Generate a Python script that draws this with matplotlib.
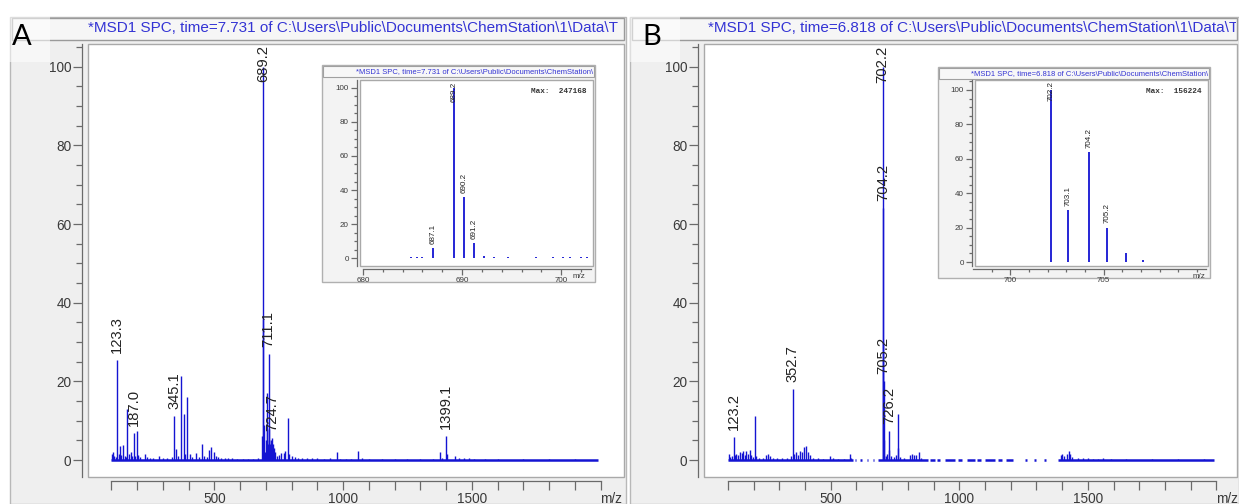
import matplotlib
matplotlib.use('Agg')
import matplotlib.pyplot as plt
from matplotlib.patches import Rectangle
from matplotlib.ticker import FixedLocator, FixedFormatter, MultipleLocator
import matplotlib.transforms as mtransforms
import numpy as np

plt.rcParams['font.family'] = ['Liberation Sans', 'DejaVu Sans']

# ---------------- data ----------------
# Panel A, full scan (m/z, relative abundance)
a_mz = [104, 106.6, 112, 118, 123.3, 128, 132.5, 139, 146.8, 152, 156, 161, 168, 175, 181,
        187.0, 193, 199.8, 205, 212, 229.7, 238, 250, 262, 284, 300, 318, 335, 345.1, 352,
        360, 372, 382, 388, 395, 405, 415, 430, 440, 453, 460, 470, 478, 488, 499, 505, 515,
        525, 540, 555, 570, 590, 610, 630, 650, 670, 687.1, 689.2, 690.2, 691.2, 692.2, 695,
        700, 703, 706, 708, 711.1, 712.1, 714, 717, 720, 724.7, 728, 732, 736, 742, 750, 760,
        770, 776, 785, 790, 800, 812, 825, 840, 860, 880, 900, 925, 950, 974.6, 990, 1010,
        1030, 1059, 1075, 1100, 1150, 1200, 1250, 1300, 1350, 1376, 1385, 1399.1, 1402,
        1433, 1450, 1470, 1490, 1510, 1550, 1600, 1700, 1800, 1900]
a_int = [1.5, 2.0, 1.0, 0.8, 25.5, 1.5, 3.5, 1.2, 3.8, 1.0, 0.8, 12.9, 1.5, 2.0, 1.0,
         6.9, 1.0, 7.5, 1.2, 0.8, 1.6, 0.7, 0.5, 0.5, 1.0, 0.5, 0.5, 0.8, 11.3, 2.8,
         1.0, 21.3, 11.8, 1.5, 16.0, 1.5, 0.8, 1.8, 0.7, 4.0, 1.0, 0.8, 2.5, 3.4, 2.0, 1.0, 0.8,
         0.6, 0.6, 0.5, 0.5, 0.4, 0.4, 0.4, 0.4, 0.5, 6.0, 100.0, 36.0, 9.0, 1.2, 2.0,
         5.0, 8.0, 17.0, 4.0, 27.0, 8.0, 5.0, 4.0, 5.0, 5.7, 4.0, 3.0, 2.0, 1.0, 1.2, 1.8,
         1.8, 2.2, 10.8, 1.5, 1.0, 0.8, 0.6, 0.6, 0.5, 0.5, 0.5, 0.4, 0.5, 2.0, 0.4, 0.4,
         0.4, 2.2, 0.5, 0.4, 0.3, 0.3, 0.3, 0.3, 0.3, 2.0, 0.5, 6.1, 1.5,
         1.0, 0.6, 0.5, 0.5, 0.3, 0.3, 0.3, 0.3, 0.3, 0.3]
a_base = [(100, 1990)]
a_labels = ["123.3", "187.0", "345.1", "689.2", "711.1", "724.7", "1399.1"]

# Panel B, full scan
b_mz = [104, 110, 116, 123.2, 128, 133, 140, 147, 153, 160, 166, 172, 178, 185, 191, 198,
        204, 210, 220, 235, 249, 256, 262, 275, 290, 310, 330, 345, 352.7, 358, 366, 372,
        380, 388, 395, 402, 410, 418, 430, 450, 470, 496, 510, 530, 550, 574, 580,
        702.2, 703.1, 704.2, 705.2, 706.2, 707.1, 713, 718, 726.2, 727.2, 735, 745, 755,
        762, 763, 770, 785, 808, 815, 822, 830, 843, 850,
        1395, 1400, 1408, 1418, 1425, 1432, 1440, 1460, 1480, 1500, 1520, 1540, 1560, 1590,
        1650, 1750, 1850, 1950]
b_int = [1.5, 0.8, 1.0, 5.9, 1.2, 1.6, 1.2, 2.0, 1.8, 2.2, 1.4, 2.4, 1.5, 2.6, 1.2, 0.8,
         11.2, 1.0, 0.6, 0.6, 1.3, 1.5, 1.0, 0.5, 0.5, 0.5, 0.5, 1.0, 18.0, 1.5, 2.0, 1.2,
         2.4, 2.1, 3.3, 3.5, 2.0, 1.2, 0.6, 0.5, 0.4, 1.0, 0.5, 0.4, 0.4, 1.5, 0.5,
         100.0, 30.0, 64.0, 20.0, 5.0, 1.0, 1.0, 1.5, 7.4, 2.5, 1.0, 0.8, 1.2,
         11.8, 3.0, 0.8, 0.6, 1.2, 1.6, 1.2, 1.4, 2.0, 0.6,
         1.2, 1.6, 1.0, 1.6, 2.2, 1.5, 0.8, 0.6, 0.5, 0.5, 0.4, 0.4, 0.5, 0.3,
         0.3, 0.3, 0.3, 0.3]
b_base = [(100, 585), (595, 600), (615, 620), (640, 645), (665, 670), (685, 880),
          (885, 905), (915, 925), (945, 985), (995, 1010), (1030, 1060), (1070, 1085),
          (1100, 1140), (1150, 1165), (1180, 1210), (1255, 1262), (1290, 1297),
          (1330, 1337), (1385, 1990)]
b_labels = ["123.2", "352.7", "702.2", "704.2", "705.2", "726.2"]

# Insets (zoom on the molecular ion cluster)
ia_mz = [684.8, 685.4, 686.0, 687.1, 689.2, 690.2, 691.2, 692.2, 693.2, 694.6, 697.5,
         699.2, 700.2, 700.9, 702.0, 702.6]
ia_int = [0.4, 0.4, 0.4, 6.0, 100.0, 36.0, 9.0, 1.2, 0.5, 0.4, 0.4, 0.4, 0.4, 0.4, 0.4, 0.4]
ia_labels = ["687.1", "689.2", "690.2", "691.2"]
ib_mz = [702.2, 703.1, 704.2, 705.2, 706.2, 707.1, 708.2]
ib_int = [100.0, 30.0, 64.0, 20.0, 5.0, 1.0, 0.3]
ib_labels = ["702.2", "703.1", "704.2", "705.2"]

titles = ["*MSD1 SPC, time=7.731 of C:\\Users\\Public\\Documents\\ChemStation\\1\\Data\\T",
          "*MSD1 SPC, time=6.818 of C:\\Users\\Public\\Documents\\ChemStation\\1\\Data\\T"]
inset_titles = ["*MSD1 SPC, time=7.731 of C:\\Users\\Public\\Documents\\ChemStation\\",
                "*MSD1 SPC, time=6.818 of C:\\Users\\Public\\Documents\\ChemStation\\"]
max_texts = ["Max:  247168", "Max:  156224"]
panel_letters = ["A", "B"]

# ---------------- drawing ----------------
W, H = 1239, 504
fig = plt.figure(figsize=(W / 100, H / 100), dpi=100)
fig.patch.set_facecolor('white')

BLUE = '#1414d2'
TXT_BLUE = '#3434d4'
FRAME = '#a9a9a9'
AXC = '#6a6a6a'
PANEL_BG = '#efefef'


def box(l, t, r, b):
    return [l / W, 1 - b / H, (r - l) / W, (b - t) / H]


def rect(l, t, r, b, z=0, **kw):
    p = Rectangle((l / W, 1 - b / H), (r - l) / W, (b - t) / H,
                  transform=fig.transFigure, zorder=z, **kw)
    fig.add_artist(p)
    return p


def ftext(x, y, s, **kw):
    return fig.text(x / W, 1 - y / H, s, **kw)


def spectrum(pos, mz, inten, base, labels, xlim, ylim, xmajor, xlabels, xminor,
             ymin_step, lw, base_lw, fs, lab_fs, tick_major, tick_minor, out_l, out_b,
             lab_off, spine_xb):
    ax = fig.add_axes(pos)
    ax.set_facecolor('white')
    ax.set_xlim(*xlim)
    ax.set_ylim(*ylim)
    ax.vlines(mz, 0, inten, color=BLUE, lw=lw, zorder=3)
    for a, b in base:
        ax.plot([a, b], [0, 0], color=BLUE, lw=base_lw, solid_capstyle='butt', zorder=3)
    lab_set = set(labels)
    for m, h in zip(mz, inten):
        s = ("%.1f" % m)
        if s in lab_set:
            if h > 90:
                ax.annotate(s, (m, ylim[1]), xytext=(0, -1), textcoords='offset points',
                            rotation=90, ha='center', va='top', fontsize=lab_fs,
                            color='#222222', zorder=4)
            else:
                ax.annotate(s, (m, h), xytext=(0, lab_off), textcoords='offset points',
                            rotation=90, ha='center', va='bottom', fontsize=lab_fs,
                            color='#222222', zorder=4)
    for sp in ['top', 'right']:
        ax.spines[sp].set_visible(False)
    ax.spines['left'].set_position(('outward', out_l))
    ax.spines['bottom'].set_position(('outward', out_b))
    ax.spines['bottom'].set_bounds(spine_xb)
    for sp in ['left', 'bottom']:
        ax.spines[sp].set_color(AXC)
        ax.spines[sp].set_linewidth(0.9)
    ax.add_patch(Rectangle((0, 0), 1, 1, transform=ax.transAxes, fill=False,
                           edgecolor=FRAME, lw=1.0, clip_on=False, zorder=5))
    ax.xaxis.set_major_locator(FixedLocator(xmajor))
    ax.xaxis.set_major_formatter(FixedFormatter(xlabels))
    ax.xaxis.set_minor_locator(FixedLocator(xminor))
    ax.set_yticks([0, 20, 40, 60, 80, 100])
    ax.yaxis.set_minor_locator(MultipleLocator(ymin_step))
    ax.tick_params(which='major', length=tick_major, width=0.9, color=AXC,
                   labelsize=fs, labelcolor='#3a3a3a', pad=1.5)
    ax.tick_params(which='minor', length=tick_minor, width=0.9, color=AXC)
    tr = mtransforms.blended_transform_factory(ax.transData, ax.transAxes)
    return ax, tr


# --- panel frames ---
for i, (l, r) in enumerate([(10, 626), (630, 1239)]):
    rect(l, 17, r, 504, z=0, facecolor=PANEL_BG, edgecolor='#b8b8b8', lw=1.0)
    rect(l + 2, 18, r - 2, 40, z=1, facecolor='#f6f6f6', edgecolor='#9a9a9a', lw=1.0)
    t = ftext(l + 78, 28.5, titles[i], fontsize=11, color=TXT_BLUE, va='center', ha='left',
              zorder=2)
    t.set_clip_path(Rectangle(((l + 2) / W, 0), (r - l - 5) / W, 1,
                              transform=fig.transFigure))

# --- main spectra ---
main_specs = [
    dict(pos=box(88, 44, 624, 477), mz=a_mz, inten=a_int, base=a_base, labels=a_labels,
         xlim=(9.5, 2091)),
    dict(pos=box(704, 44, 1237, 477), mz=b_mz, inten=b_int, base=b_base, labels=b_labels,
         xlim=(7, 2080)),
]
xt = list(range(100, 2001, 100))
xtl = [str(v) if v in (500, 1000, 1500) else '' for v in xt]
for spec in main_specs:
    ax, tr = spectrum(spec['pos'], spec['mz'], spec['inten'], spec['base'], spec['labels'],
                      spec['xlim'], (-4.3, 105.8), xt, xtl, [], 5, 1.0, 1.8, 9.8, 10.6,
                      6.5, 4, 4, 3, 5, (100, 2000))
    ax.text(2042, -0.035, 'm/z', transform=tr, ha='center', va='top', fontsize=9.8,
            color='#3a3a3a')

# --- panel letters ---
for (l, letter) in [(0, 'A'), (630, 'B')]:
    rect(l, 15, l + 50, 62, z=6, facecolor='white', alpha=0.55, edgecolor='none')
    ftext(l + 22, 37, letter, fontsize=21, family='Lato', color='black',
          ha='center', va='center', zorder=7)

# --- insets ---
inset_specs = [
    dict(outer=(322, 65, 595, 282), pos=box(360, 80, 593, 266), mz=ia_mz, inten=ia_int,
         labels=ia_labels, xlim=(679.7, 703.2), ylim=(-4.7, 104.7), xmaj=[680, 690, 700],
         xmin=list(range(680, 704, 2)), mzx=701.8, spx=(680, 703)),
    dict(outer=(938, 67, 1210, 278), pos=box(975, 80, 1208, 266), mz=ib_mz, inten=ib_int,
         labels=ib_labels, xlim=(698.1, 710.6), ylim=(-2.3, 105.8), xmaj=[700, 705],
         xmin=list(range(698, 711, 1)), mzx=710.1, spx=(698, 710.5)),
]
for i, sp in enumerate(inset_specs):
    l, t, r, b = sp['outer']
    rect(l, t, r, b, z=8, facecolor='#f3f3f3', edgecolor='#b0b0b0', lw=1.0)
    rect(l + 1, t + 1, r - 1, t + 12, z=9, facecolor='#f7f7f7', edgecolor='#a0a0a0', lw=0.8)
    ftext(r - 2, t + 6.5, inset_titles[i], fontsize=5.5, color=TXT_BLUE, ha='right',
          va='center', zorder=10)
    ax, tr = spectrum(sp['pos'], sp['mz'], sp['inten'], [], sp['labels'], sp['xlim'],
                      sp['ylim'], sp['xmaj'], [str(v) for v in sp['xmaj']], sp['xmin'], 5,
                      1.3, 1.0, 5.8, 5.8, 4, 2.5, 2.5, 2.5, 3, sp['spx'])
    ax.set_zorder(11)
    ax.text(sp['mzx'], -0.035, 'm/z', transform=tr, ha='center', va='top', fontsize=5.8,
            color='#3a3a3a')
    ax.text(0.97, 0.94, max_texts[i], transform=ax.transAxes, ha='right', va='center',
            fontsize=5.6, family='Liberation Mono', fontweight='bold', color='#333333')

fig.savefig('out.png', dpi=100, facecolor=fig.get_facecolor())
